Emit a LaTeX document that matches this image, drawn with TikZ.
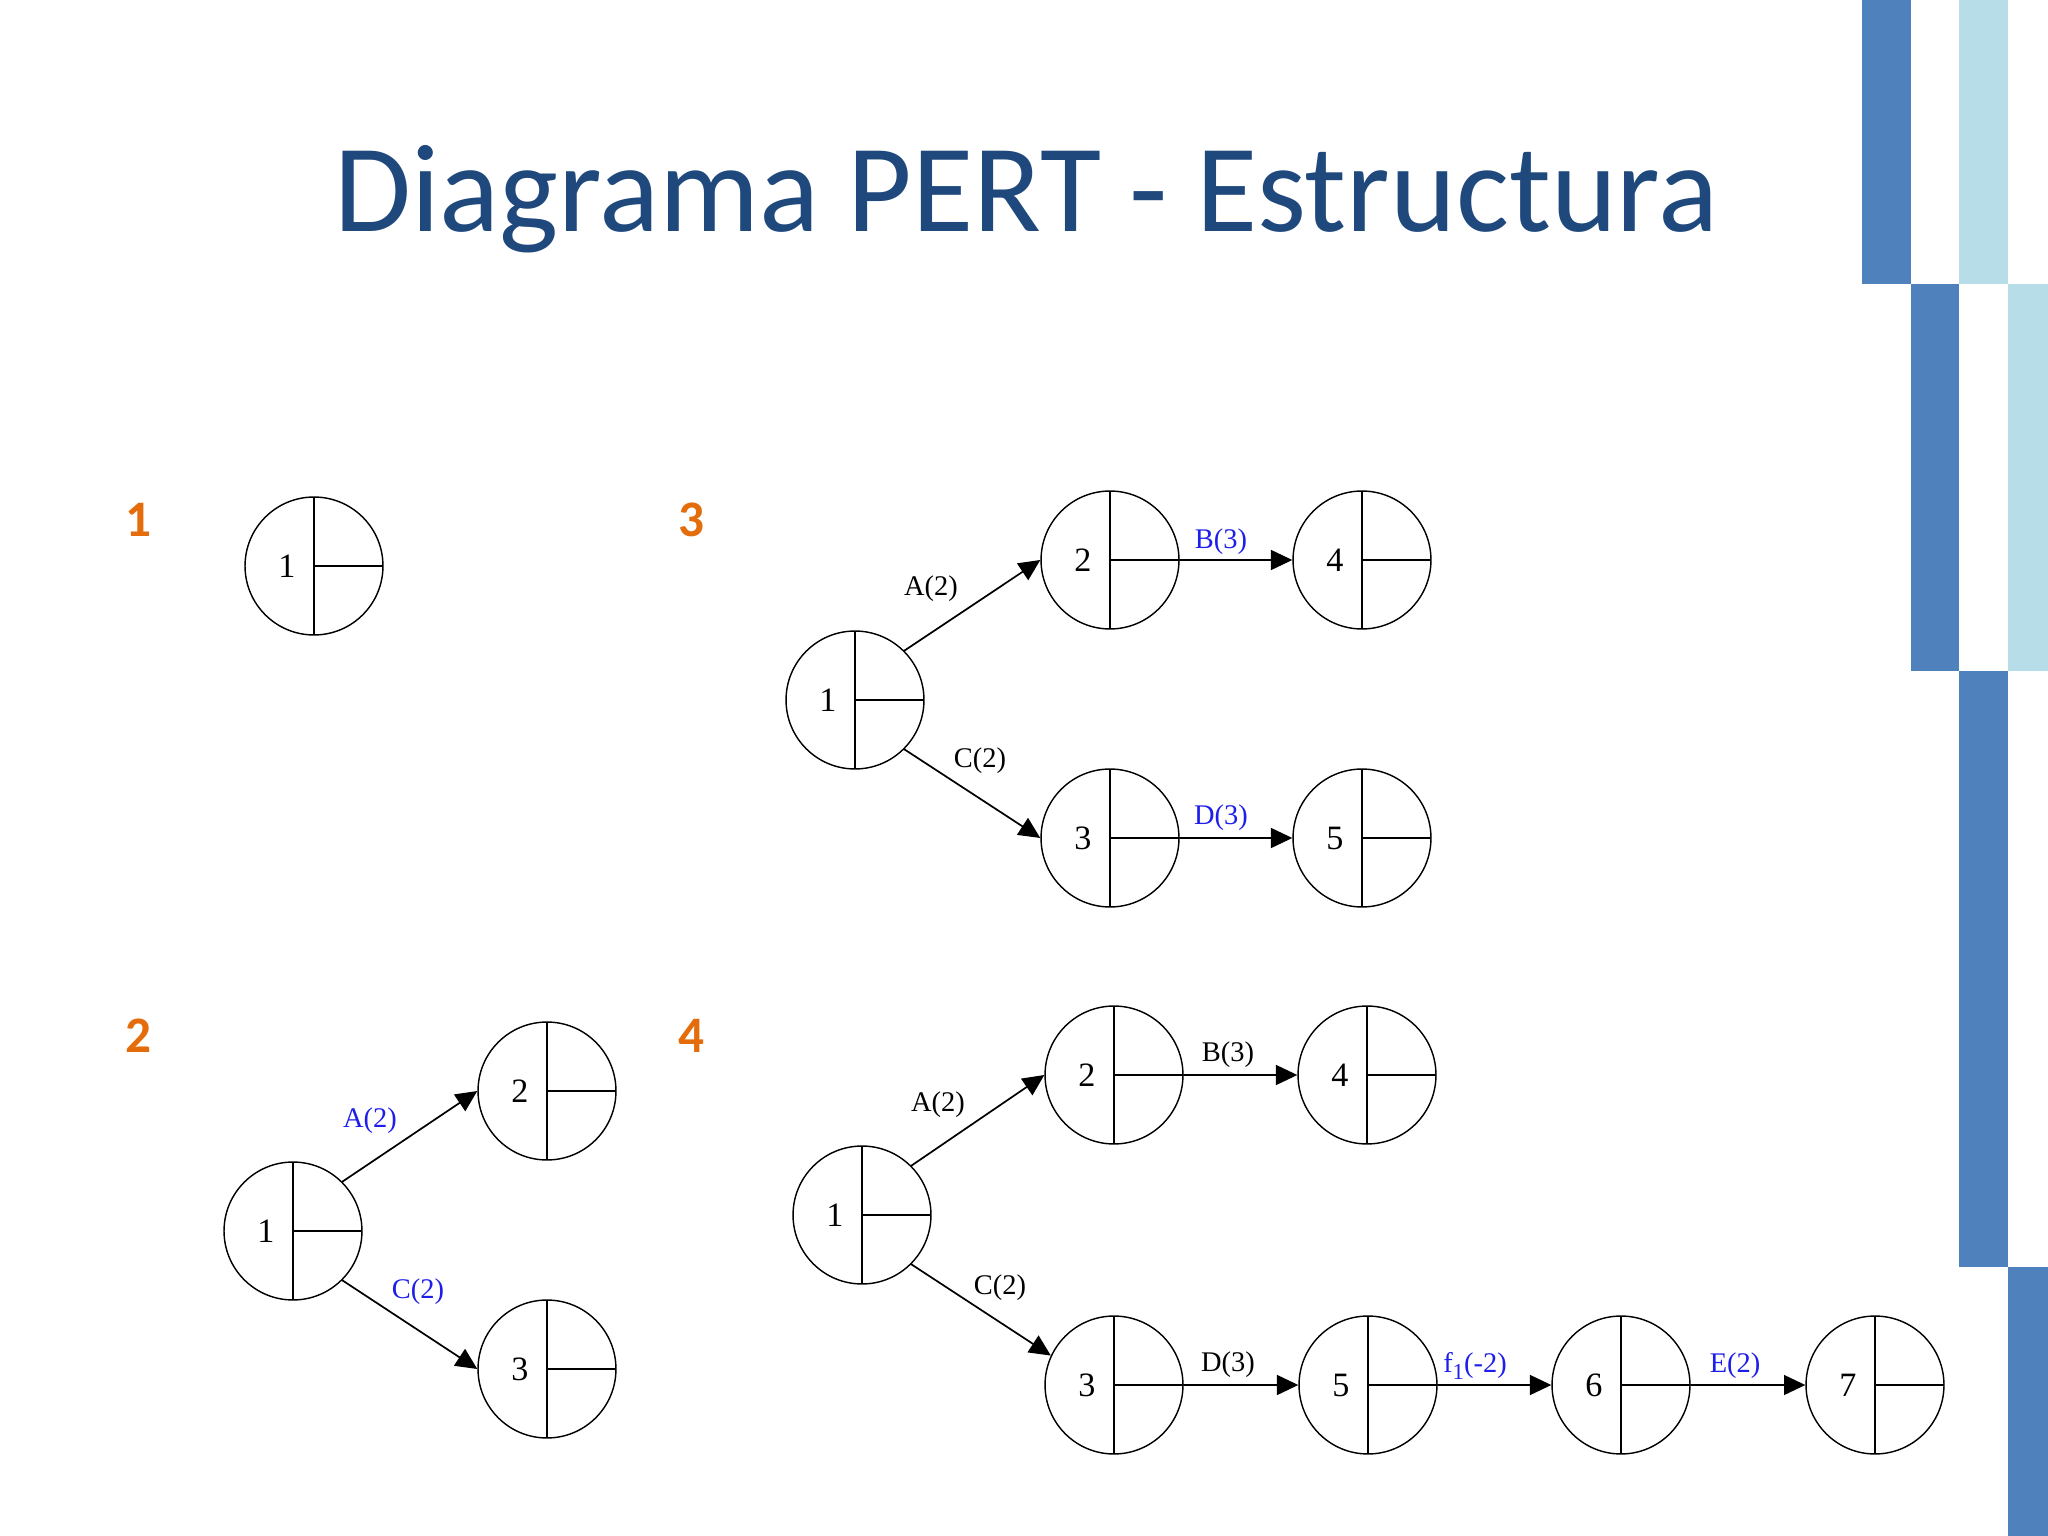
\documentclass[tikz,border=0pt]{standalone}
\usepackage{fontspec}
\setmainfont{Liberation Serif}
\newfontfamily\slidefont{Carlito}
\usetikzlibrary{arrows.meta}

\definecolor{titleblue}{HTML}{1F497D}
\definecolor{bardark}{HTML}{4F81BD}
\definecolor{barlight}{HTML}{B7DEE8}
\definecolor{steporange}{HTML}{E46C0A}
\definecolor{actblue}{RGB}{30,30,235}

\tikzset{
  event/.style={circle, draw, line width=0.5pt, inner sep=0pt, minimum size=48.5pt,
    path picture={\draw (path picture bounding box.north) -- (path picture bounding box.south)
      (path picture bounding box.center) -- (path picture bounding box.east);},
    label={[xshift=-9.5pt, font=\fontsize{12}{12}\selectfont]center:#1}},
  act/.style={line width=0.6pt, -{Triangle[length=7.5pt, width=7pt]}},
  actlbl/.style={font=\fontsize{10}{10}\selectfont, inner sep=1pt},
  steplbl/.style={font=\slidefont\bfseries\fontsize{18}{18}\selectfont, text=steporange}
}

\begin{document}
\begin{tikzpicture}[x=0.3515625pt, y=-0.3515625pt, line cap=round]

    \fill[white] (0,0) rectangle (2048,1536);
    \useasboundingbox (0,0) rectangle (2048,1536);

    % side bars
    \fill[bardark] (1862,0) rectangle (1911,284);
    \fill[barlight] (1959,0) rectangle (2008,284);
    \fill[bardark] (1911,284) rectangle (1959,671);
    \fill[barlight] (2008,284) rectangle (2048,671);
    \fill[bardark] (1959,671) rectangle (2008,1267);
    \fill[bardark] (2008,1267) rectangle (2048,1536);

    \node[font=\slidefont\fontsize{44}{44}\selectfont, text=titleblue, anchor=base] (title) at (1026,232) {Diagrama PERT - Estructura};

    \node[steplbl] (s1) at (138,520) {1};
    \node[steplbl] (s3) at (691,520) {3};
    \node[steplbl] (s2) at (138,1036) {2};
    \node[steplbl] (s4) at (691,1036) {4};

    % 1
    \node[event=1] (a1) at (314,566) {};

    % 3
    \node[event=1] (c1) at (855,700) {};
    \node[event=2] (c2) at (1110,560) {};
    \node[event=4] (c4) at (1362,560) {};
    \node[event=3] (c3) at (1110,838) {};
    \node[event=5] (c5) at (1362,838) {};
    \draw[act] (c1.45) -- (c2.west);
    \draw[act] (c1.-45) -- (c3.west);
    \draw[act] (c2.east) -- (c4.west);
    \draw[act] (c3.east) -- (c5.west);
    \node[actlbl] (cA) at (931,589) {A(2)};
    \node[actlbl, text=actblue] (cB) at (1221,542) {B(3)};
    \node[actlbl] (cC) at (980,761) {C(2)};
    \node[actlbl, text=actblue] (cD) at (1221,818) {D(3)};

    % 2
    \node[event=1] (b1) at (293,1231) {};
    \node[event=2] (b2) at (547,1091) {};
    \node[event=3] (b3) at (547,1369) {};
    \draw[act] (b1.45) -- (b2.west);
    \draw[act] (b1.-45) -- (b3.west);
    \node[actlbl, text=actblue] (bA) at (370,1121) {A(2)};
    \node[actlbl, text=actblue] (bC) at (418,1292) {C(2)};

    % 4
    \node[event=1] (d1) at (862,1215) {};
    \node[event=2] (d2) at (1114,1075) {};
    \node[event=4] (d4) at (1367,1075) {};
    \node[event=3] (d3) at (1114,1385) {};
    \node[event=5] (d5) at (1368,1385) {};
    \node[event=6] (d6) at (1621,1385) {};
    \node[event=7] (d7) at (1875,1385) {};
    \draw[act] (d1.45) -- (d2.west);
    \draw[act] (d1.-45) -- (d3.155);
    \draw[act] (d2.east) -- (d4.west);
    \draw[act] (d3.east) -- (d5.west);
    \draw[act] (d5.east) -- (d6.west);
    \draw[act] (d6.east) -- (d7.west);
    \node[actlbl] (dA) at (938,1105) {A(2)};
    \node[actlbl] (dB) at (1228,1055) {B(3)};
    \node[actlbl] (dC) at (1000,1288) {C(2)};
    \node[actlbl] (dD) at (1228,1365) {D(3)};
    \node[actlbl, text=actblue] (dF) at (1475,1366) {f\raisebox{-2.5pt}{\fontsize{8}{8}\selectfont 1}(-2)};
    \node[actlbl, text=actblue] (dE) at (1735,1366) {E(2)};

\end{tikzpicture}
\end{document}
